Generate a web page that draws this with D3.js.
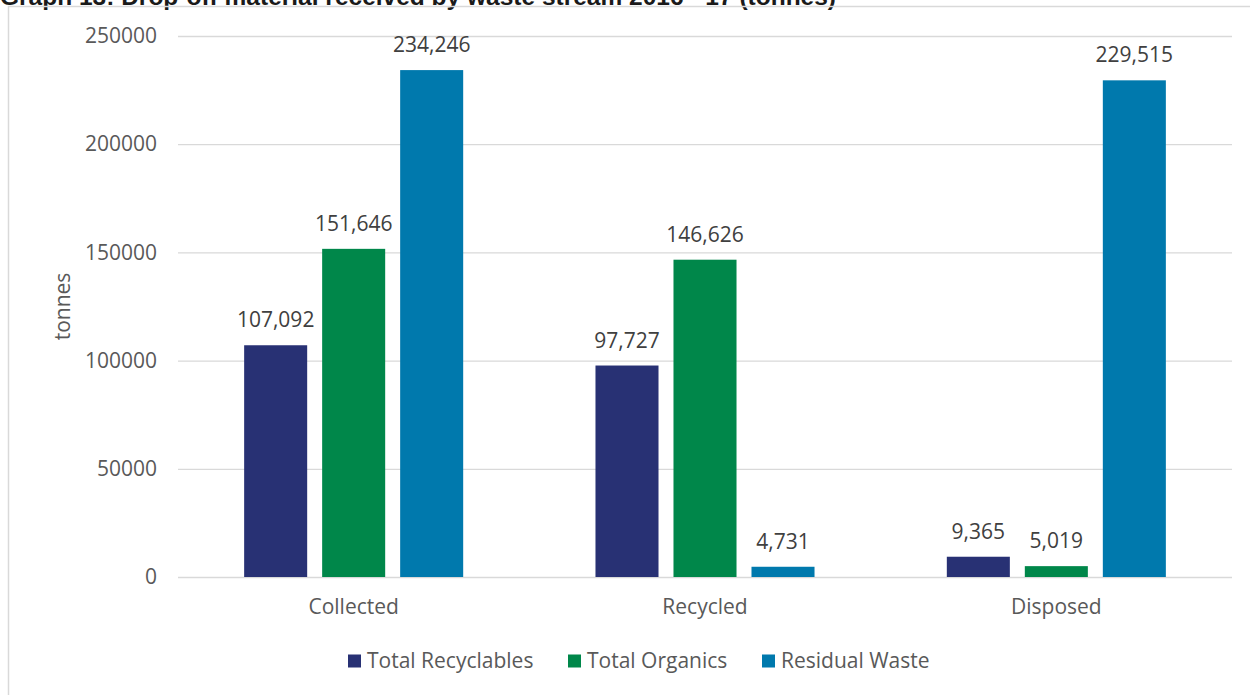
<!DOCTYPE html>
<html>
<head>
<meta charset="utf-8">
<script src="https://cdn.jsdelivr.net/npm/d3@7"></script>
<style>
  html, body { margin: 0; padding: 0; background: #fff; }
  svg { display: block; }
</style>
</head>
<body>
<svg id="chart" width="1250" height="695"></svg>
<script>
// Drop-off material by waste stream, 2016-17 (tonnes)
const categories = ["Collected", "Recycled", "Disposed"];
const seriesNames = ["Total Recyclables", "Total Organics", "Residual Waste"];
const totalRecyclables = [107092, 97727, 9365];
const totalOrganics = [151646, 146626, 5019];
const residualWaste = [234246, 4731, 229515];
const yTicks = [0, 50000, 100000, 150000, 200000, 250000];
const colors = ["#283174", "#00874a", "#0079ad"];

const series = [totalRecyclables, totalOrganics, residualWaste];
const rows = categories.map((c, i) => ({
  category: c,
  values: series.map((s, j) => ({ key: seriesNames[j], value: s[i] }))
}));

const svg = d3.select("#chart");
const font = "'Open Sans', sans-serif";
const fontSize = 21;
const textColor = "#595959";

// title (partly clipped at the top edge)
svg.append("text")
  .attr("x", 0).attr("y", 5)
  .attr("font-family", "'Liberation Sans', Arial, sans-serif")
  .attr("font-weight", "bold")
  .attr("font-size", 24.5)
  .attr("fill", "#1a1a1a")
  .text("Graph 13: Drop-off material received by waste stream 2016 - 17 (tonnes)");

// chart area frame
svg.append("rect")
  .attr("x", 8.5).attr("y", 6.5)
  .attr("width", 1250).attr("height", 700)
  .attr("fill", "none")
  .attr("stroke", "#d9d9d9")
  .attr("stroke-width", 1.5);

const plot = { left: 178, right: 1232, top: 36, bottom: 577 };

const x = d3.scaleBand()
  .domain(categories)
  .range([plot.left, plot.right])
  .paddingInner(0).paddingOuter(0);

const inner = d3.scaleBand()
  .domain(seriesNames)
  .range([0, x.bandwidth()])
  .paddingInner(0.192)
  .paddingOuter(0.848);

const y = d3.scaleLinear()
  .domain([0, 250000])
  .range([plot.bottom, plot.top]);

// gridlines
svg.append("g")
  .selectAll("line")
  .data(yTicks)
  .join("line")
  .attr("x1", plot.left).attr("x2", plot.right)
  .attr("y1", d => y(d) + 0.5).attr("y2", d => y(d) + 0.5)
  .attr("stroke", "#d9d9d9")
  .attr("stroke-width", 1.3);

// y axis labels
const yAxis = d3.axisLeft(y).tickValues(yTicks).tickSize(0).tickPadding(21)
  .tickFormat(d3.format("d"));
const gy = svg.append("g")
  .attr("transform", `translate(${plot.left},0)`)
  .call(yAxis);
gy.select(".domain").remove();
gy.selectAll("text")
  .attr("font-family", font).attr("font-size", fontSize).attr("fill", textColor);

// y axis title
svg.append("text")
  .attr("transform", `translate(70,${(plot.top + plot.bottom) / 2}) rotate(-90)`)
  .attr("text-anchor", "middle")
  .attr("font-family", font).attr("font-size", fontSize).attr("fill", textColor)
  .text("tonnes");

// x axis labels
const xAxis = d3.axisBottom(x).tickSize(0).tickPadding(22);
const gx = svg.append("g")
  .attr("transform", `translate(0,${plot.bottom})`)
  .call(xAxis);
gx.select(".domain").remove();
gx.selectAll("text")
  .attr("font-family", font).attr("font-size", fontSize).attr("fill", textColor);

// bars
const groups = svg.append("g")
  .selectAll("g")
  .data(rows)
  .join("g")
  .attr("transform", d => `translate(${x(d.category)},0)`);

groups.selectAll("rect")
  .data(d => d.values)
  .join("rect")
  .attr("x", d => inner(d.key))
  .attr("width", inner.bandwidth())
  .attr("y", d => y(d.value))
  .attr("height", d => y(0) - y(d.value))
  .attr("fill", (d, i) => colors[i]);

// value labels
groups.selectAll("text.val")
  .data(d => d.values)
  .join("text")
  .attr("class", "val")
  .attr("x", d => inner(d.key) + inner.bandwidth() / 2)
  .attr("y", d => y(d.value) - 18)
  .attr("text-anchor", "middle")
  .attr("font-family", font).attr("font-size", fontSize).attr("fill", "#404040")
  .text(d => d3.format(",")(d.value));

// legend
const legendItems = seriesNames.map((n, i) => ({ name: n, color: colors[i] }));
const legend = svg.append("g").attr("transform", "translate(0,661)");
const legendX = [348, 568, 762];
const lg = legend.selectAll("g")
  .data(legendItems)
  .join("g")
  .attr("transform", (d, i) => `translate(${legendX[i]},0)`);
lg.append("rect")
  .attr("x", 0).attr("y", -6.5)
  .attr("width", 13).attr("height", 13)
  .attr("fill", d => d.color);
lg.append("text")
  .attr("x", 19).attr("y", 0).attr("dy", "0.35em")
  .attr("font-family", font).attr("font-size", fontSize).attr("fill", textColor)
  .text(d => d.name);
</script>
</body>
</html>
